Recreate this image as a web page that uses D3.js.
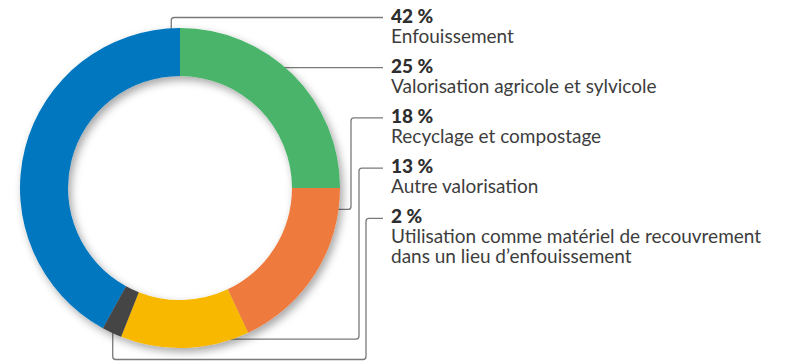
<!DOCTYPE html>
<html>
<head>
<meta charset="utf-8">
<script src="https://cdn.jsdelivr.net/npm/d3@7"></script>
<style>
  html, body { margin: 0; padding: 0; background: #fff; }
  svg { display: block; }
  .legend text { font-family: Lato, "Open Sans", sans-serif; font-size: 19px; }
  .pct { font-weight: 900; fill: #2e2e2e; }
  .lbl { font-weight: 400; fill: #3d3d3d; }
</style>
</head>
<body>
<script>
// Répartition des modes de gestion (en %)
const categories = [
  ["Enfouissement"],
  ["Valorisation agricole et sylvicole"],
  ["Recyclage et compostage"],
  ["Autre valorisation"],
  ["Utilisation comme matériel de recouvrement", "dans un lieu d’enfouissement"]
];
const values = [42, 25, 18, 13, 2];
const colors = ["#0277bf", "#48b46a", "#ef7a3e", "#f8b800", "#444444"];
const percentLabels = values.map(v => v + " %");

const W = 788, H = 361;
const cx = 180, cy = 188, R = 160, r = 112;

const svg = d3.select("body").append("svg")
  .attr("width", W).attr("height", H);

const defs = svg.append("defs");
const f = defs.append("filter").attr("id", "shadow")
  .attr("x", "-20%").attr("y", "-20%").attr("width", "140%").attr("height", "140%");
f.append("feDropShadow").attr("dx", 3).attr("dy", 4)
  .attr("stdDeviation", 4).attr("flood-color", "#000").attr("flood-opacity", 0.35);

// Le premier secteur (Enfouissement) se termine à midi, les suivants tournent en sens horaire
const total = d3.sum(values);
const start = -2 * Math.PI * values[0] / total;
const pie = d3.pie().sort(null).value(d => d).startAngle(start).endAngle(start + 2 * Math.PI);
const arcs = pie(values);
const arc = d3.arc().innerRadius(r).outerRadius(R);

// Légende
const textX = 391, lineEndX = 383;
const rowY = d3.scaleLinear().domain([0, 1]).range([22.5, 72.7]);

const polar = (a, rad) => [cx + rad * Math.sin(a), cy - rad * Math.cos(a)];

// Tracé d'une polyligne aux angles arrondis
function rounded(points, rr) {
  const p = d3.path();
  p.moveTo(points[0][0], points[0][1]);
  for (let i = 1; i < points.length - 1; i++) {
    const [x0, y0] = points[i - 1], [x1, y1] = points[i], [x2, y2] = points[i + 1];
    const d1 = Math.hypot(x1 - x0, y1 - y0), d2 = Math.hypot(x2 - x1, y2 - y1);
    const k1 = Math.min(rr, d1 / 2), k2 = Math.min(rr, d2 / 2);
    p.lineTo(x1 - (x1 - x0) / d1 * k1, y1 - (y1 - y0) / d1 * k1);
    p.quadraticCurveTo(x1, y1, x1 + (x2 - x1) / d2 * k2, y1 + (y2 - y1) / d2 * k2);
  }
  const last = points[points.length - 1];
  p.lineTo(last[0], last[1]);
  return p.toString();
}

// Points d'ancrage des lignes de rappel (fraction de l'angle du secteur)
const anchorFrac = [0.979, null, 0.12, 0.175, 0.5];
function leader(i) {
  const a = arcs[i];
  const ly = rowY(i) - 5;
  const ang = anchorFrac[i] == null ? null : a.startAngle + (a.endAngle - a.startAngle) * anchorFrac[i];
  if (i === 0) {
    const [x, y] = polar(ang, R - 2);
    return [[x, y], [x, ly], [lineEndX, ly]];
  }
  if (i === 1) {
    const x = cx + Math.sqrt(R * R - (ly - cy) ** 2) - 2;
    return [[x, ly], [lineEndX, ly]];
  }
  if (i === 2 || i === 3) {
    const [x, y] = polar(ang, R - 2);
    const chX = i === 2 ? 351 : 359;
    return [[x, y], [chX, y], [chX, ly], [lineEndX, ly]];
  }
  const [x, y] = polar(ang, R - 2);
  return [[x, y], [x, 359.5], [366, 359.5], [366, ly], [lineEndX, ly]];
}

svg.append("g").selectAll("path")
  .data(values.map((v, i) => i))
  .join("path")
  .attr("d", i => rounded(leader(i), 3))
  .attr("fill", "none")
  .attr("stroke", "#7a7a7a")
  .attr("stroke-width", 1.3);

// Anneau
svg.append("g")
  .attr("transform", `translate(${cx},${cy})`)
  .attr("filter", "url(#shadow)")
  .selectAll("path")
  .data(arcs)
  .join("path")
  .attr("d", arc)
  .attr("fill", (d, i) => colors[i]);

// Textes : pourcentage en gras puis libellé, dans un même bloc
const lg = svg.append("g").attr("class", "legend");
categories.forEach((lines, i) => {
  const t = lg.append("text").attr("x", textX).attr("y", rowY(i));
  t.append("tspan").attr("class", "pct").attr("x", textX).text(percentLabels[i]);
  lines.forEach(line => {
    t.append("tspan").attr("class", "lbl").attr("x", textX).attr("dy", 20).text(line);
  });
});
</script>
</body>
</html>
